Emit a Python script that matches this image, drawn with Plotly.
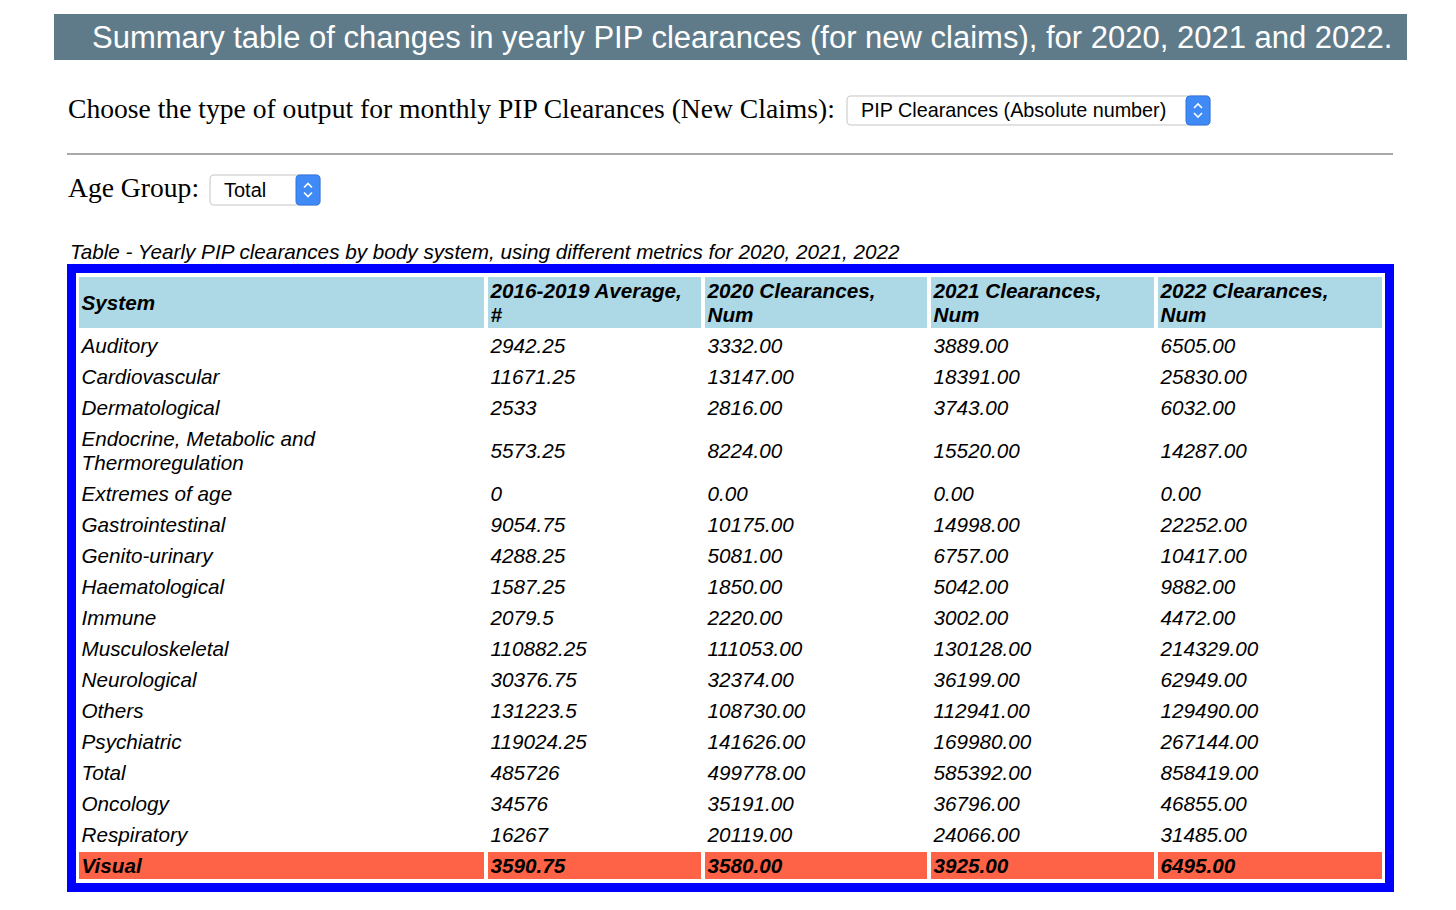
import plotly.graph_objects as go

# ページ本体に 8px の余白があるので、図は 1440x894 にして左上を 8px ずらす
W, H = 1440, 894
OFF = 8

# === データ ===
systems = ["Auditory", "Cardiovascular", "Dermatological",
           "Endocrine, Metabolic and<br>Thermoregulation", "Extremes of age",
           "Gastrointestinal", "Genito-urinary", "Haematological", "Immune",
           "Musculoskeletal", "Neurological", "Others", "Psychiatric", "Total",
           "Oncology", "Respiratory", "Visual"]
avg_2016_2019 = [2942.25, 11671.25, 2533, 5573.25, 0, 9054.75, 4288.25, 1587.25,
                 2079.5, 110882.25, 30376.75, 131223.5, 119024.25, 485726,
                 34576, 16267, 3590.75]
clear_2020 = [3332, 13147, 2816, 8224, 0, 10175, 5081, 1850, 2220, 111053,
              32374, 108730, 141626, 499778, 35191, 20119, 3580]
clear_2021 = [3889, 18391, 3743, 15520, 0, 14998, 6757, 5042, 3002, 130128,
              36199, 112941, 169980, 585392, 36796, 24066, 3925]
clear_2022 = [6505, 25830, 6032, 14287, 0, 22252, 10417, 9882, 4472, 214329,
              62949, 129490, 267144, 858419, 46855, 31485, 6495]
headers = ["System", "2016-2019 Average,<br>#", "2020 Clearances,<br>Num",
           "2021 Clearances,<br>Num", "2022 Clearances,<br>Num"]
highlight = "Visual"

title_text = "Summary table of changes in yearly PIP clearances (for new claims), for 2020, 2021 and 2022."
caption = "Table - Yearly PIP clearances by body system, using different metrics for 2020, 2021, 2022"
output_choice = "PIP Clearances (Absolute number)"
age_choice = "Total"

# 表のレイアウト（ピクセル）
col_widths = [409, 217, 226, 227, 228]
TABLE_LEFT, TABLE_TOP = 77, 275
ROW_H, LINE_H = 31, 24
TEXT_DY = 2.5   # 文字の縦位置の微調整
FONT = "Arial, Liberation Sans"
SERIF = "Liberation Serif, Times New Roman"


def short(v):
    return ("%.2f" % v).rstrip("0").rstrip(".")


def px(x):
    return (x - OFF) / W


def py(y):
    return 1 - (y - OFF) / H


columns = [
    systems,
    [short(v) for v in avg_2016_2019],
    ["%.2f" % v for v in clear_2020],
    ["%.2f" % v for v in clear_2021],
    ["%.2f" % v for v in clear_2022],
]

# 行の高さ（行数に応じて）
all_rows = [headers] + [list(r) for r in zip(*columns)]
heights = [ROW_H + LINE_H * (max(c.count("<br>") for c in row)) for row in all_rows]
y_edges = [0]
for h in heights:
    y_edges.append(y_edges[-1] + h)
y_mid = [(a + b) / 2 for a, b in zip(y_edges[:-1], y_edges[1:])]
x_edges = [0]
for w in col_widths:
    x_edges.append(x_edges[-1] + w)
total_w, total_h = x_edges[-1], y_edges[-1]

# セルの塗り: 0=白, 1=ヘッダー(lightblue), 2=強調(tomato)
z = [[1] * len(headers)] + [[2 if n == highlight else 0] * len(headers) for n in systems]

fig = go.Figure()
fig.add_trace(go.Heatmap(
    z=z, x=x_edges, y=y_edges,
    zmin=0, zmax=2,
    colorscale=[[0, "white"], [0.5, "#ADD8E6"], [1, "tomato"]],
    xgap=4, ygap=4, showscale=False, hoverinfo="skip",
))

# セルの文字（複数行は行ごとに配置して行間を詰める）
for j in range(len(headers)):
    xs, ys, txt = [], [], []
    for i, row in enumerate(all_rows):
        bold = i == 0 or row[0] == highlight
        lines = row[j].split("<br>")
        for k, line in enumerate(lines):
            xs.append(x_edges[j] + 4.5)
            ys.append(y_mid[i] + (k - (len(lines) - 1) / 2) * LINE_H + TEXT_DY)
            txt.append(("<b><i>%s</i></b>" if bold else "<i>%s</i>") % line)
    fig.add_trace(go.Scatter(
        x=xs, y=ys, mode="text", text=txt, textposition="middle right",
        textfont=dict(family=FONT, size=20.7, color="black"),
        hoverinfo="skip", showlegend=False,
    ))

fig.update_xaxes(visible=False, range=[0, total_w], fixedrange=True,
                 domain=[px(TABLE_LEFT), px(TABLE_LEFT + total_w)])
fig.update_yaxes(visible=False, range=[total_h, 0], fixedrange=True,
                 domain=[py(TABLE_TOP + total_h), py(TABLE_TOP)])


def rrect(x0, y0, x1, y1, r):
    pts = [
        (x0 + r, y0), (x1 - r, y0), ("Q", x1, y0, x1, y0 + r), (x1, y1 - r),
        ("Q", x1, y1, x1 - r, y1), (x0 + r, y1), ("Q", x0, y1, x0, y1 - r),
        (x0, y0 + r), ("Q", x0, y0, x0 + r, y0),
    ]
    d = "M %f %f" % (px(pts[0][0]), py(pts[0][1]))
    for p in pts[1:]:
        if p[0] == "Q":
            d += " Q %f %f %f %f" % (px(p[1]), py(p[2]), px(p[3]), py(p[4]))
        else:
            d += " L %f %f" % (px(p[0]), py(p[1]))
    return d + " Z"


def chevrons(cx, cy):
    up = "M %f %f L %f %f L %f %f" % (px(cx - 4), py(cy - 2.5), px(cx), py(cy - 6.5), px(cx + 4), py(cy - 2.5))
    dn = "M %f %f L %f %f L %f %f" % (px(cx - 4), py(cy + 2.5), px(cx), py(cy + 6.5), px(cx + 4), py(cy + 2.5))
    return [dict(type="path", xref="paper", yref="paper", path=p,
                 line=dict(color="white", width=1.6)) for p in (up, dn)]


def dropdown(x0, y0, x1, y1, label, size):
    shp = [
        dict(type="path", xref="paper", yref="paper", path=rrect(x0, y0, x1, y1, 4),
             fillcolor="white", line=dict(color="#c4c4c4", width=1)),
        dict(type="path", xref="paper", yref="paper", path=rrect(x1 - 24, y0, x1, y1, 4),
             fillcolor="#3f8af7", line=dict(color="#2f74e0", width=1)),
    ]
    shp += chevrons(x1 - 12, (y0 + y1) / 2)
    ann = dict(x=px(x0 + 12), y=py((y0 + y1) / 2), text=label,
               font=dict(family=FONT, size=size, color="black"))
    return shp, ann


shapes = [
    # タイトル帯
    dict(type="rect", xref="paper", yref="paper", x0=px(54), x1=px(1407), y0=py(60), y1=py(14),
         fillcolor="#5f7b8a", line=dict(width=0), layer="below"),
    # 区切り線
    dict(type="line", xref="paper", yref="paper", x0=px(67), x1=px(1393), y0=py(154), y1=py(154),
         line=dict(color="#8c8c8c", width=1.5)),
    # 表の青枠
    dict(type="rect", xref="paper", yref="paper", x0=px(67), x1=px(1394), y0=py(892), y1=py(264),
         fillcolor="#0000ff", line=dict(width=0), layer="below"),
    dict(type="rect", xref="paper", yref="paper", x0=px(76), x1=px(1385), y0=py(883), y1=py(273),
         fillcolor="white", line=dict(width=0), layer="below"),
]

annotations = [
    dict(x=px(90), y=py(37), text=title_text,
         font=dict(family=FONT, size=31, color="white")),
    dict(x=px(66), y=py(108), text="Choose the type of output for monthly PIP Clearances (New Claims):",
         font=dict(family=SERIF, size=27.6, color="black")),
    dict(x=px(66), y=py(188), text="Age Group:",
         font=dict(family=SERIF, size=27.6, color="black")),
    dict(x=px(68), y=py(251), text="<i>%s</i>" % caption,
         font=dict(family=FONT, size=20.7, color="black")),
]

for box in [(847, 96, 1210, 125, output_choice, 19.8), (210, 175, 320, 205, age_choice, 20)]:
    s, a = dropdown(*box)
    shapes += s
    annotations.append(a)

for a in annotations:
    a.update(xref="paper", yref="paper", xanchor="left", yanchor="middle", showarrow=False)

fig.update_layout(
    width=W, height=H,
    margin=dict(l=0, r=0, t=0, b=0),
    paper_bgcolor="white",
    plot_bgcolor="rgba(0,0,0,0)",
    shapes=shapes,
    annotations=annotations,
    showlegend=False,
)

fig.write_html("out.html")
